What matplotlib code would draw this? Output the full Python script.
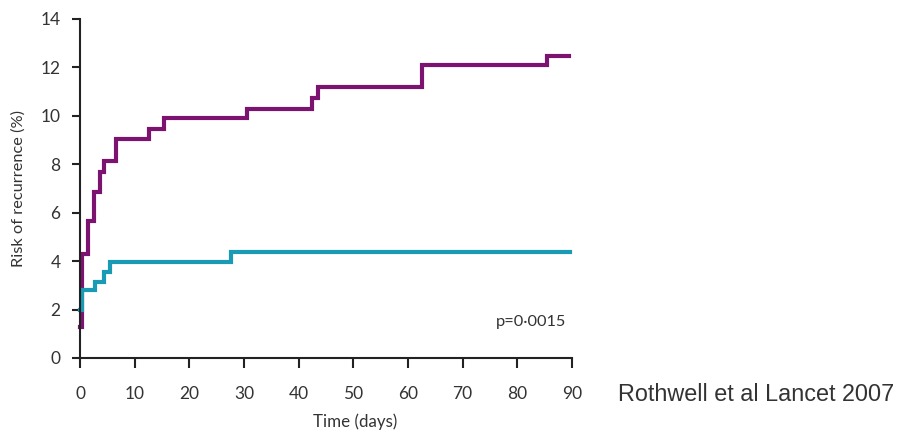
import numpy as np
import matplotlib.pyplot as plt

# step times (days) and cumulative risk (%)
days_a = [0, 0.3, 1.5, 2.6, 3.7, 4.3, 6.5, 12.6, 15.4, 30.5, 42.4, 43.5, 62.5, 85.4, 89.4]
risk_a = [1.3, 4.3, 5.65, 6.85, 7.7, 8.15, 9.05, 9.45, 9.9, 10.3, 10.75, 11.2, 12.08, 12.45, 12.45]

days_b = [0, 0.3, 2.7, 4.4, 5.4, 27.6, 89.6]
risk_b = [2.0, 2.8, 3.15, 3.57, 3.97, 4.37, 4.37]

xticks = np.arange(0, 91, 10)
yticks = np.arange(0, 15, 2)

purple = '#7d1370'
cyan = '#1a9bb5'

plt.rcParams['font.family'] = ['Lato', 'DejaVu Sans']

fig = plt.figure(figsize=(9.04, 4.4), dpi=100)
ax = fig.add_axes([0.0885, 0.1864, 0.5442, 0.7705])

ax.step(days_a, risk_a, where='post', color=purple, lw=3.0, clip_on=False, solid_joinstyle='miter')
ax.step(days_b, risk_b, where='post', color=cyan, lw=3.0, clip_on=False, solid_joinstyle='miter')

ax.set_xlim(0, 90)
ax.set_ylim(0, 14)
ax.set_xticks(xticks)
ax.set_yticks(yticks)
for s in ['top', 'right']:
    ax.spines[s].set_visible(False)
for s in ['left', 'bottom']:
    ax.spines[s].set_linewidth(1.5)
    ax.spines[s].set_color('#222222')
ax.tick_params(direction='out', width=1.5, color='#222222',
               labelsize=12.5, labelcolor='#333333')
ax.tick_params(axis='x', length=7.5, pad=13)
ax.tick_params(axis='y', length=6, pad=8)

ax.set_ylabel('Risk of recurrence (%)', fontsize=11.8, color='#333333')
ax.yaxis.set_label_coords(-0.11, 0.5)
ax.set_xlabel('Time (days)', fontsize=12.2, color='#333333')
ax.xaxis.set_label_coords(0.559, -0.165)

ax.text(88.9, 1.5, 'p=0\u00b70015', ha='right', va='center', fontsize=11.8, color='#333333')

fig.text(0.684, 0.089, 'Rothwell et al Lancet 2007', fontsize=16.8, color='#333333',
         family=['Liberation Sans', 'DejaVu Sans'])

fig.savefig('out.png', dpi=100)
